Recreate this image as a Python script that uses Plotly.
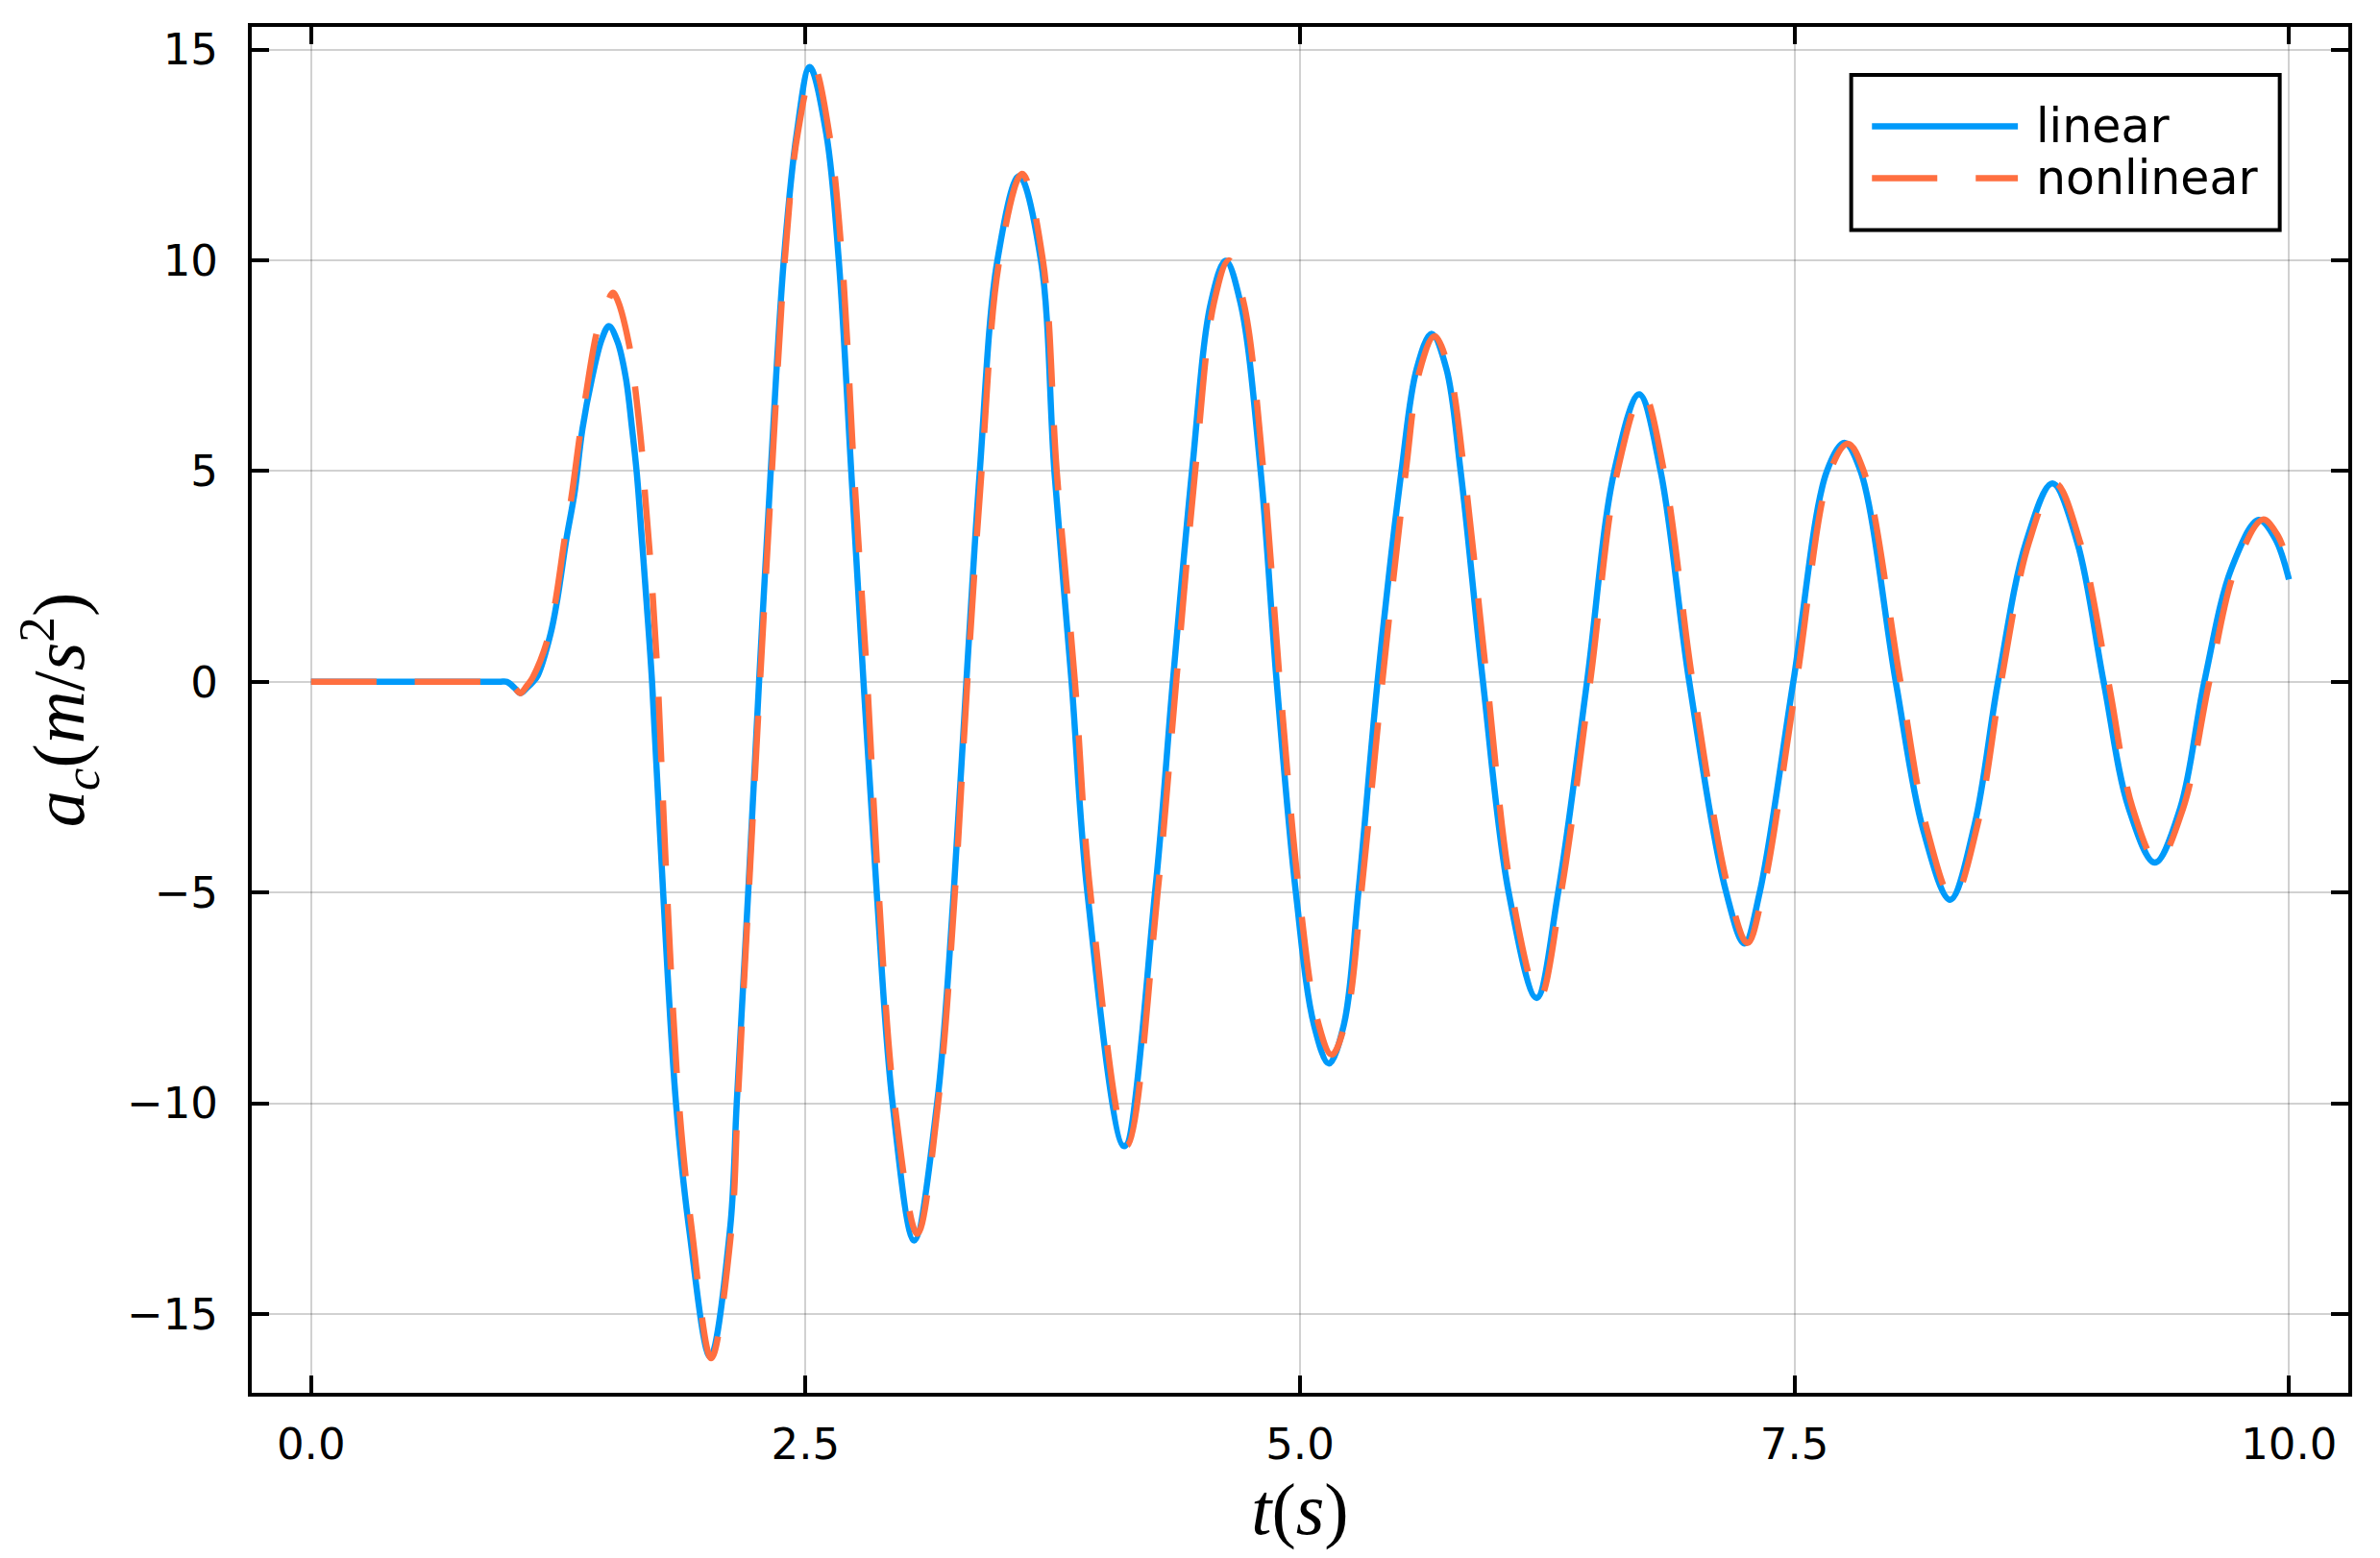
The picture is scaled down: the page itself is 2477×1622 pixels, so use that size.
import plotly.graph_objects as go

# ---------------- data ----------------
t_linear = [0.0, 0.5, 0.95, 0.99, 1.03, 1.058, 1.09, 1.122, 1.146, 1.211, 1.243, 1.292, 1.332,
            1.372, 1.421, 1.47, 1.506, 1.55, 1.591, 1.623, 1.647, 1.672, 1.696, 1.724,
            1.78, 1.845, 1.912, 2.018, 2.118, 2.152, 2.21, 2.265, 2.324, 2.39, 2.455, 2.521,
            2.605, 2.668, 2.731, 2.793, 2.86, 2.94, 3.049, 3.165, 3.249, 3.313, 3.381, 3.47,
            3.58, 3.69, 3.758, 3.845, 3.925, 4.111, 4.267, 4.357, 4.454, 4.549,
            4.624, 4.699, 4.801, 4.882, 4.979, 5.071, 5.146, 5.221, 5.295, 5.392, 5.513, 5.59,
            5.665, 5.74, 5.812, 5.925, 6.055, 6.196, 6.305, 6.451,
            6.589, 6.715, 6.823, 6.968, 7.155, 7.247, 7.324, 7.494, 7.664, 7.752, 7.834, 8.012,
            8.15, 8.287, 8.41, 8.529, 8.67, 8.804, 8.93, 9.063, 9.19, 9.322, 9.45, 9.572, 9.71,
            9.847, 9.93, 10.0]
a_linear = [0.0, 0.0, 0.0, 0.0, -0.15, -0.27, -0.15, 0.0, 0.15, 1.14, 1.9, 3.42, 4.48,
            6.0, 7.22, 8.13, 8.44, 8.06, 7.22, 6.0, 4.94, 3.42, 1.9, 0.0,
            -5.0, -10.0, -13.0, -16.02, -13.0, -10.0, -5.0, 0.0, 5.0, 10.0, 13.0, 14.59,
            13.0, 10.0, 5.0, 0.0, -5.0, -10.0, -13.26, -10.0, -5.0, 0.0, 5.0, 10.0,
            12.0, 10.0, 5.0, 0.0, -5.0, -11.02, -5.0, 0.0, 5.0, 8.99,
            9.99, 8.99, 5.0, 0.0, -5.0, -8.15, -9.06, -8.15, -5.0, 0.0, 5.0, 7.43,
            8.26, 7.43, 5.0, 0.0, -5.0, -7.5, -5.0, 0.0,
            5.0, 6.82, 5.0, 0.0, -5.0, -6.21, -5.0, 0.0, 5.0, 5.67, 5.0, 0.0,
            -3.5, -5.17, -3.4, 0.0, 3.3, 4.71, 3.3, 0.0, -3.0, -4.29, -3.0, 0.0, 2.7,
            3.84, 3.4, 2.43]

t_nonlinear = [0.0, 0.5, 0.95, 0.99, 1.03, 1.058, 1.09, 1.12, 1.195, 1.235, 1.283, 1.316, 1.36,
               1.389, 1.446, 1.49, 1.526, 1.551, 1.615, 1.64, 1.675, 1.689, 1.715, 1.749,
               1.80, 1.86, 1.925, 2.023, 2.125, 2.157, 2.213, 2.27, 2.33, 2.395, 2.46, 2.542,
               2.62, 2.685, 2.745, 2.812, 2.87, 2.95, 3.065, 3.17, 3.255, 3.318, 3.39, 3.48,
               3.595, 3.70, 3.77, 3.862, 3.94, 4.125, 4.28, 4.374, 4.47, 4.565,
               4.64, 4.715, 4.815, 4.898, 4.995, 5.085, 5.16, 5.235, 5.31, 5.416, 5.535, 5.605,
               5.68, 5.755, 5.83, 5.946, 6.07, 6.21, 6.32, 6.467,
               6.605, 6.733, 6.84, 6.985, 7.17, 7.262, 7.34, 7.51, 7.68, 7.77, 7.85, 8.036,
               8.17, 8.30, 8.425, 8.545, 8.685, 8.818, 8.945, 9.087, 9.21, 9.335, 9.465, 9.597,
               9.73, 9.868, 9.94, 10.0]
a_nonlinear = [0.0, 0.0, 0.0, 0.0, -0.15, -0.27, -0.1, 0.1, 0.99, 1.9, 3.42, 4.37, 5.89,
               6.8, 8.32, 8.9, 9.23, 9.04, 7.83, 6.92, 5.36, 4.41, 2.89, 0.38,
               -5.0, -10.0, -13.0, -16.05, -13.0, -10.0, -5.0, 0.0, 5.0, 10.0, 13.0, 14.58,
               13.0, 10.0, 5.0, 0.0, -5.0, -10.0, -13.1, -10.0, -5.0, 0.0, 5.0, 10.0,
               12.05, 10.0, 5.0, 0.0, -5.0, -11.0, -5.0, 0.0, 5.0, 9.0,
               10.0, 9.0, 5.0, 0.0, -5.0, -7.97, -8.85, -7.97, -5.0, 0.0, 5.0, 7.38,
               8.2, 7.38, 5.0, 0.0, -5.0, -7.5, -5.0, 0.0,
               5.0, 6.85, 5.0, 0.0, -5.0, -6.2, -5.0, 0.0, 5.0, 5.65, 5.0, 0.0,
               -3.5, -5.15, -3.4, 0.0, 3.3, 4.71, 3.3, 0.0, -3.0, -4.27, -3.0, 0.0,
               2.7, 3.85, 3.5, 2.77]

series_names = ["linear", "nonlinear"]
x_tick_vals = [0.0, 2.5, 5.0, 7.5, 10.0]
x_tick_text = ["0.0", "2.5", "5.0", "7.5", "10.0"]
y_tick_vals = [-15, -10, -5, 0, 5, 10, 15]

# ---------------- styling ----------------
BLUE = "#009AFA"
ORANGE = "#FF6F40"
TICK_FONT = dict(family="DejaVu Sans", size=45, color="black")
TITLE_FONT = dict(family="Liberation Serif", size=76, color="black")
LW = 6.5

fig = go.Figure()
fig.add_trace(go.Scatter(
    x=t_linear, y=a_linear, mode="lines", name=series_names[0], showlegend=False,
    line=dict(color=BLUE, width=LW, shape="spline", smoothing=1.0)))
fig.add_trace(go.Scatter(
    x=t_nonlinear, y=a_nonlinear, mode="lines", name=series_names[1], showlegend=False,
    line=dict(color=ORANGE, width=LW, dash="68px,40px", shape="spline", smoothing=1.0)))

axis_common = dict(
    showline=True, linecolor="black", linewidth=4, mirror="ticks",
    ticks="inside", ticklen=18, tickwidth=4, tickcolor="black",
    showgrid=True, gridcolor="rgba(0,0,0,0.18)", gridwidth=2,
    zeroline=False, tickfont=TICK_FONT,
)

fig.update_xaxes(range=[-0.3, 10.3], tickvals=x_tick_vals, ticktext=x_tick_text,
                 ticklabelstandoff=11,
                 title=dict(text="<i>t</i>(<i>s</i>)", font=TITLE_FONT, standoff=14),
                 **axis_common)
fig.update_yaxes(range=[-16.87, 15.54], tickvals=y_tick_vals, ticklabelstandoff=22,
                 title=dict(text="<i>a</i><sub><i>c</i></sub>(<i>m</i>/<i>s</i><sup>2</sup>)",
                            font=TITLE_FONT, standoff=20),
                 **axis_common)

# ---------------- legend (drawn as a framed box) ----------------
lx0, lx1, ly0, ly1 = 0.7629, 0.9673, 0.8512, 0.9649
line_x0, line_x1 = 0.7728, 0.8424
rows_y = [0.9273, 0.8892]
shapes = [dict(type="rect", xref="paper", yref="paper", x0=lx0, x1=lx1, y0=ly0, y1=ly1,
               line=dict(color="black", width=4), fillcolor="white", layer="above")]
shapes.append(dict(type="line", xref="paper", yref="paper", x0=line_x0, x1=line_x1,
                   y0=rows_y[0], y1=rows_y[0], line=dict(color=BLUE, width=LW), layer="above"))
shapes.append(dict(type="line", xref="paper", yref="paper", x0=line_x0, x1=line_x1,
                   y0=rows_y[1], y1=rows_y[1], line=dict(color=ORANGE, width=LW, dash="68px,40px"),
                   layer="above"))
annotations = []
for name, yy in zip(series_names, rows_y):
    annotations.append(dict(text=name, xref="paper", yref="paper", x=0.8503, y=yy,
                            xanchor="left", yanchor="middle", showarrow=False,
                            font=dict(family="DejaVu Sans", size=49, color="black")))

# page body has an 8px margin: size the figure so the plot area lands where the reference has it
fig.update_layout(
    width=2461, height=1606,
    margin=dict(l=254, r=25, t=20, b=164, autoexpand=False),
    paper_bgcolor="white", plot_bgcolor="white",
    shapes=shapes, annotations=annotations,
    showlegend=False,
)

fig.write_html("out.html")
